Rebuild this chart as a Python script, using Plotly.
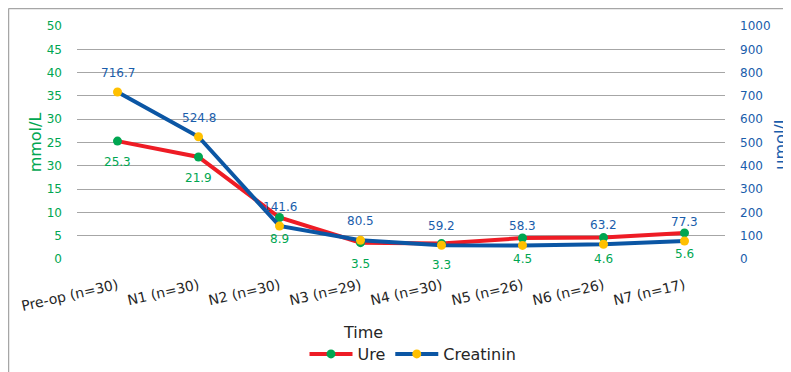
import plotly.graph_objects as go

categories = ["Pre-op (n=30)", "N1 (n=30)", "N2 (n=30)", "N3 (n=29)", "N4 (n=30)",
              "N5 (n=26)", "N6 (n=26)", "N7 (n=17)"]
ure = [25.3, 21.9, 8.9, 3.5, 3.3, 4.5, 4.6, 5.6]
creatinin = [716.7, 524.8, 141.6, 80.5, 59.2, 58.3, 63.2, 77.3]
left_ticks = [0, 5, 10, 15, 20, 25, 30, 35, 40, 45, 50]
left_ticktext = ["0", "5", "10", "15", "30", "25", "30", "35", "40", "45", "50"]
right_ticks = [0, 100, 200, 300, 400, 500, 600, 700, 800, 900, 1000]

GREEN = "#00A651"
BLUE = "#1A5DAB"
FONT = "DejaVu Sans"

# The page body has an 8px margin; work in page pixels and convert.
OFF = 8
W, H = 791 - OFF, 372 - OFF
L, R, T, B = 77, 725, 26, 259  # plot area in page pixels

def px_x(p):
    return (p - L) / (R - L)

def px_y(p):
    return (B - p) / (B - T)

fig = go.Figure()
fig.add_trace(go.Scatter(
    x=categories, y=ure, name="Ure", mode="lines+markers",
    line=dict(color="#EE1C25", width=4),
    marker=dict(color=GREEN, size=9),
    cliponaxis=False, yaxis="y"))
fig.add_trace(go.Scatter(
    x=categories, y=creatinin, name="Creatinin", mode="lines+markers",
    line=dict(color="#0B56A4", width=4),
    marker=dict(color="#FFC000", size=9),
    cliponaxis=False, yaxis="y2"))

annotations = []
for c, v in zip(categories, ure):
    annotations.append(dict(x=c, y=v, xref="x", yref="y", text=f"{v:.1f}",
                            showarrow=False, yshift=-21,
                            font=dict(color=GREEN, size=12, family=FONT)))
for c, v in zip(categories, creatinin):
    annotations.append(dict(x=c, y=v, xref="x", yref="y2", text=f"{v:.1f}",
                            showarrow=False, yshift=19,
                            font=dict(color=BLUE, size=12, family=FONT)))
annotations.append(dict(text="Time", x=px_x(363), y=px_y(332), xref="paper", yref="paper",
                        showarrow=False, font=dict(size=16, color="#262626"),
                        xanchor="center", yanchor="middle"))

fig.update_layout(
    width=W, height=H,
    margin=dict(l=L - OFF, r=W - (R - OFF), t=T - OFF, b=H - (B - OFF), autoexpand=False),
    paper_bgcolor="white", plot_bgcolor="white",
    font=dict(family=FONT, size=13, color="#262626"),
    xaxis=dict(type="category", range=[-0.5, 7.5], showgrid=False, showline=False,
               ticks="", automargin=False, ticklabelstandoff=15,
               tickangle=-13, tickfont=dict(size=14, color="#262626")),
    yaxis=dict(range=[0, 50], tickvals=left_ticks, ticktext=left_ticktext,
               showgrid=True, gridcolor="#A6A6A6", gridwidth=1,
               zeroline=False, showline=False, ticks="", automargin=False,
               ticklabelstandoff=14,
               tickfont=dict(color=GREEN, size=12),
               title=dict(text="mmol/L", font=dict(color=GREEN, size=16), standoff=1)),
    yaxis2=dict(range=[0, 1000], tickvals=right_ticks, overlaying="y", side="right",
                showgrid=False, zeroline=False, showline=False, ticks="", automargin=False,
                ticklabelstandoff=14,
                tickfont=dict(color=BLUE, size=12),
                title=dict(text="umol/L", font=dict(color=BLUE, size=16), standoff=5)),
    showlegend=True,
    legend=dict(orientation="h", x=px_x(413), y=px_y(354), xanchor="center",
                yanchor="middle", font=dict(size=16, color="#262626"),
                itemwidth=43, bgcolor="rgba(0,0,0,0)"),
    annotations=annotations,
    shapes=[
        dict(type="line", xref="paper", yref="paper",
             x0=px_x(8.5), x1=px_x(8.5), y0=px_y(8.5), y1=px_y(380),
             line=dict(color="#A6A6A6", width=1.5)),
        dict(type="line", xref="paper", yref="paper",
             x0=px_x(8.5), x1=px_x(800), y0=px_y(8.5), y1=px_y(8.5),
             line=dict(color="#A6A6A6", width=1.5)),
    ],
)

fig.write_html("out.html")
